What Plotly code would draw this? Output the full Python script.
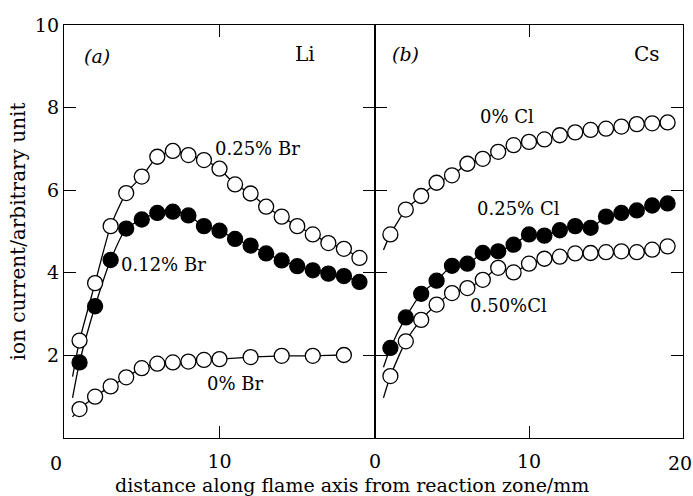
import plotly.graph_objects as go
import numpy as np

# ---- data ----
x_a = list(range(1, 20))
br025 = [2.36, 3.75, 5.13, 5.93, 6.33, 6.81, 6.95, 6.85, 6.73, 6.52, 6.14, 5.92, 5.60, 5.36, 5.13, 4.93, 4.72, 4.58, 4.36]
br012 = [1.83, 3.19, 4.31, 5.07, 5.29, 5.45, 5.48, 5.39, 5.13, 5.02, 4.82, 4.66, 4.47, 4.30, 4.16, 4.06, 3.98, 3.92, 3.78]
x_br0 = [1, 2, 3, 4, 5, 6, 7, 8, 9, 10, 12, 14, 16, 18]
br0 = [0.70, 1.00, 1.25, 1.47, 1.69, 1.80, 1.83, 1.85, 1.89, 1.91, 1.96, 1.99, 1.99, 2.01]

x_b = list(range(1, 20))
cl0 = [4.93, 5.53, 5.86, 6.18, 6.36, 6.64, 6.76, 6.93, 7.09, 7.17, 7.23, 7.33, 7.40, 7.46, 7.49, 7.54, 7.60, 7.62, 7.64]
cl025 = [2.18, 2.92, 3.49, 3.81, 4.17, 4.22, 4.48, 4.52, 4.68, 4.93, 4.90, 5.03, 5.13, 5.09, 5.36, 5.45, 5.51, 5.63, 5.68]
cl050 = [1.50, 2.34, 2.86, 3.23, 3.51, 3.63, 3.83, 4.12, 4.01, 4.22, 4.34, 4.39, 4.47, 4.48, 4.50, 4.52, 4.50, 4.56, 4.64]

y_ticks = [0, 2, 4, 6, 8, 10]
y_ticktext = ["", "2", "4", "6", "8", "10"]
x_ticks = [0, 10, 20]

FONT = "DejaVu Serif"
fig = go.Figure()


def extend(xs, ys, d0=0.45, d1=0.4):
    xs = np.array(xs, float)
    ys = np.array(ys, float)
    s0 = (ys[1] - ys[0]) / (xs[1] - xs[0])
    s1 = (ys[-1] - ys[-2]) / (xs[-1] - xs[-2])
    xe = np.concatenate([[xs[0] - d0], xs, [xs[-1] + d1]])
    ye = np.concatenate([[ys[0] - s0 * d0 * 1.4], ys, [ys[-1] + s1 * d1]])
    return xe, ye


def add_series(xs, ys, filled, xa, ya):
    xe, ye = extend(xs, ys)
    fig.add_trace(go.Scatter(x=xe, y=ye, mode="lines", xaxis=xa, yaxis=ya,
                             line=dict(color="black", width=1.3, shape="spline", smoothing=0.6),
                             showlegend=False, hoverinfo="skip"))
    fig.add_trace(go.Scatter(x=xs, y=ys, mode="markers", xaxis=xa, yaxis=ya,
                             marker=dict(size=15, symbol="circle",
                                         color="black" if filled else "white",
                                         line=dict(color="black", width=1.3)),
                             showlegend=False))


add_series(x_br0, br0, False, "x", "y")
add_series(x_a, br012, True, "x", "y")
add_series(x_a, br025, False, "x", "y")
add_series(x_b, cl050, False, "x2", "y2")
add_series(x_b, cl025, True, "x2", "y2")
add_series(x_b, cl0, False, "x2", "y2")

axis_common = dict(showline=True, linecolor="black", linewidth=1.4, mirror="ticks",
                   ticks="inside", ticklen=12, tickwidth=1.3, tickcolor="black",
                   showgrid=False, zeroline=False,
                   tickfont=dict(family=FONT, size=19, color="black"))

split = 311 / 619
fig.update_layout(
    width=693, height=496,
    margin=dict(l=64, r=10, t=25, b=58),
    paper_bgcolor="white", plot_bgcolor="white",
    font=dict(family=FONT, color="black"),
    xaxis=dict(domain=[0, split], range=[0, 20], tickvals=x_ticks, ticktext=["", "10", ""],
               anchor="y", ticklabelstandoff=6, **axis_common),
    xaxis2=dict(domain=[split, 1], range=[0, 20], tickvals=x_ticks, ticktext=["0", "10", ""],
                anchor="y2", ticklabelstandoff=6, **axis_common),
    yaxis=dict(range=[0, 10], tickvals=y_ticks, ticktext=y_ticktext, anchor="x",
               title=dict(text="ion current/arbitrary unit", font=dict(family=FONT, size=20), standoff=3),
               **axis_common),
    yaxis2=dict(range=[0, 10], tickvals=y_ticks, showticklabels=False, anchor="x2",
                matches="y", **axis_common),
)

# corner tick labels
fig.add_annotation(text="0", xref="paper", yref="paper", x=0.0, y=-0.03, xanchor="center",
                   yanchor="top", xshift=-8, showarrow=False, font=dict(family=FONT, size=19))
fig.add_annotation(text="20", xref="paper", yref="paper", x=1.0, y=-0.03, xanchor="center",
                   yanchor="top", xshift=-3, showarrow=False, font=dict(family=FONT, size=19))

fig.add_annotation(text="distance along flame axis from reaction zone/mm", xref="paper", yref="paper",
                   x=0.465, y=-0.113, yanchor="middle", showarrow=False, font=dict(family=FONT, size=19))

labels = [
    ("<i>(a)</i>", "x", 2.12, 9.25, 19),
    ("Li", "x", 15.5, 9.3, 20),
    ("<i>(b)</i>", "x2", 2.0, 9.3, 19),
    ("Cs", "x2", 17.66, 9.3, 20),
    ("0.25% Br", "x", 12.47, 7.0, 18),
    ("0.12% Br", "x", 6.37, 4.2, 18),
    ("0% Br", "x", 11.0, 1.31, 18),
    ("0% Cl", "x2", 8.6, 7.79, 18),
    ("0.25% Cl", "x2", 9.35, 5.56, 18),
    ("0.50%Cl", "x2", 8.7, 3.2, 18),
]
for txt, xr, xv, yv, fs in labels:
    fig.add_annotation(text=txt, x=xv, y=yv, xref=xr, yref="y" if xr == "x" else "y2",
                       showarrow=False, font=dict(family=FONT, size=fs, color="black"))

fig.write_html("out.html")
